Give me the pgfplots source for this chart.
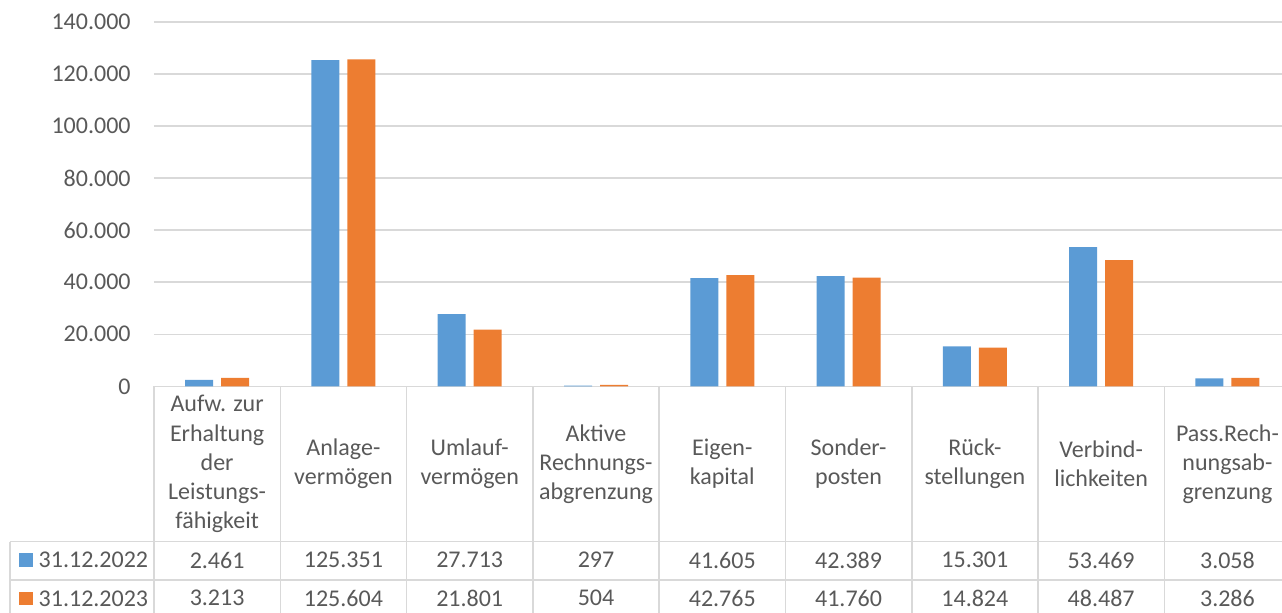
\documentclass[border=0pt]{standalone}
\usepackage{pgfplots}
\pgfplotsset{compat=1.18}
\usepackage{pgfplotstable}
\usepackage{fontspec}
\setmainfont{Carlito}
\definecolor{cblue}{HTML}{5B9BD5}
\definecolor{corange}{HTML}{ED7D31}
\definecolor{cgrid}{HTML}{D9D9D9}
\definecolor{ctext}{HTML}{595959}

\pgfplotstableread{
x a b
0 2461 3213
1 125351 125604
2 27713 21801
3 297 504
4 41605 42765
5 42389 41760
6 15301 14824
7 53469 48487
8 3058 3286
}\data

\begin{document}
\begin{tikzpicture}
\useasboundingbox (-77pt,-112.85pt) rectangle (564pt,193.15pt);
\begin{axis}[
  at={(0,0)}, anchor=south west,
  scale only axis, width=568.3pt, height=182.15pt,
  xmin=-0.5, xmax=8.5, ymin=0, ymax=140000,
  ytick={0,20000,40000,60000,80000,100000,120000,140000},
  xtick={0,...,8},
  xticklabels={{Aufw. zur\\Erhaltung\\der\\Leistungs-\\fähigkeit},{Anlage-\\vermögen},{Umlauf-\\vermögen},{Aktive\\Rechnungs-\\abgrenzung},{Eigen-\\kapital},{Sonder-\\posten},{Rück-\\stellungen},{Verbind-\\lichkeiten},{Pass.Rech-\\nungsab-\\grenzung}},
  axis line style={draw=none},
  major tick length=0pt,
  ymajorgrids, grid style={cgrid, line width=0.75pt},
  clip=false,
  tick label style={text=ctext, font=\fontsize{12}{14.55}\selectfont},
  yticklabel style={anchor=east, inner sep=0pt, xshift=-11.5pt},
  xticklabel style={anchor=center, align=center, inner sep=0pt, yshift=-38.85pt},
  scaled y ticks=false,
  /pgf/number format/.cd, fixed, precision=0, 1000 sep={.}, assume math mode=true,
]
\addplot[ybar, bar width=14pt, bar shift=-9pt, fill=cblue, draw=none] table[x=x,y=a]{\data};
\addplot[ybar, bar width=14pt, bar shift=9pt, fill=corange, draw=none] table[x=x,y=b]{\data};
\addplot[draw=none, mark=none, nodes near coords, nodes near coords align=center, point meta=explicit,
  every node near coord/.append style={text=ctext, font=\fontsize{12}{14.2}\selectfont, inner sep=0pt}]
  table[x=x, y expr=-66752, meta=a]{\data};
\addplot[draw=none, mark=none, nodes near coords, nodes near coords align=center, point meta=explicit,
  every node near coord/.append style={text=ctext, font=\fontsize{12}{14.2}\selectfont, inner sep=0pt}]
  table[x=x, y expr=-81355, meta=b]{\data};
\end{axis}
\begin{scope}[cgrid, line width=0.75pt]
\draw (-72pt,-77.7pt) -- (568.3pt,-77.7pt);
\draw (-72pt,-96.85pt) -- (568.3pt,-96.85pt);
\draw (-72pt,-116pt) -- (568.3pt,-116pt);
\draw (-72pt,-77.7pt) -- (-72pt,-120pt);
\foreach \i in {0,...,9} \draw (\i*63.15pt,0pt) -- (\i*63.15pt,-120pt);
\end{scope}
\fill[cblue] (-67.35pt,-83.5pt) rectangle ++(6.7pt,-6.7pt);
\fill[corange] (-67.35pt,-102.75pt) rectangle ++(6.7pt,-6.7pt);
\node[anchor=west, inner sep=0pt, text=ctext, font=\fontsize{12}{14.2}\selectfont] at (-57.85pt,-86.85pt) {31.12.2022};
\node[anchor=west, inner sep=0pt, text=ctext, font=\fontsize{12}{14.2}\selectfont] at (-57.85pt,-106.1pt) {31.12.2023};
\end{tikzpicture}
\end{document}
